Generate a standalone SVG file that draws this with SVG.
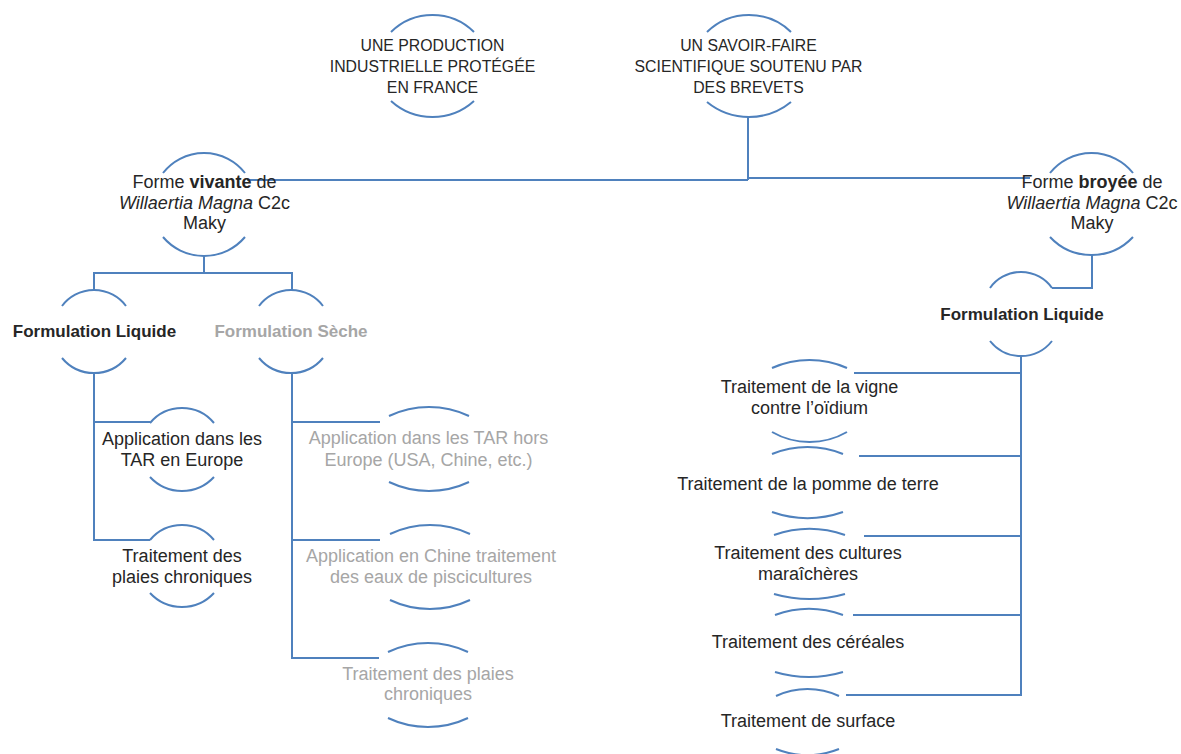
<svg xmlns="http://www.w3.org/2000/svg" width="1181" height="754" viewBox="0 0 1181 754">
<style>
.arc{fill:none;stroke:#4f81bd;stroke-width:2}
.conn{fill:none;stroke:#4f81bd;stroke-width:2}
.t{font-family:"Liberation Sans",Arial,sans-serif;font-size:18px;fill:#262626;text-anchor:middle}
.cap{font-size:15.8px}
.g{fill:#a6a6a6}
.b{font-weight:bold}
.bh{font-weight:bold;font-size:17px}
.i{font-style:italic}
</style>
<rect width="1181" height="754" fill="#ffffff"/>
<g id="connectors">
<path class="conn" d="M748,117 V180 M247,180 H748 M748,178 H1030"/>
<path class="conn" d="M204,256 V273 M94,290 V273 H292 V290"/>
<path class="conn" d="M94,373 V540 H150 M94,422 H150"/>
<path class="conn" d="M292,373 V658 H379 M292,422 H380 M292,540 H380"/>
<path class="conn" d="M1092,255 V288 H1052"/>
<path class="conn" d="M1021,356 V695 H846 M1021,373 H854 M1021,456 H859 M1021,536 H864 M1021,615 H853"/>
</g>
<g id="node-production">
<path class="arc" d="M391,32 A59.2,59.2 0 0 1 474,32"/>
<path class="arc" d="M391,101 A61.8,61.8 0 0 0 474,101"/>
<text class="t cap" x="432.5" y="51">UNE PRODUCTION</text>
<text class="t cap" x="432.5" y="72">INDUSTRIELLE PROTÉGÉE</text>
<text class="t cap" x="432.5" y="93">EN FRANCE</text>
</g>
<g id="node-savoir">
<path class="arc" d="M707,32 A60.4,60.4 0 0 1 791,32"/>
<path class="arc" d="M707,102 A66.3,66.3 0 0 0 791,102"/>
<text class="t cap" x="748.5" y="51">UN SAVOIR-FAIRE</text>
<text class="t cap" x="748.5" y="72">SCIENTIFIQUE SOUTENU PAR</text>
<text class="t cap" x="748.5" y="93">DES BREVETS</text>
</g>
<g id="node-vivante">
<path class="arc" d="M163,173 A52,52 0 0 1 245,173"/>
<path class="arc" d="M163,237 A53.7,53.7 0 0 0 245,237"/>
<text class="t" x="204.5" y="188">Forme <tspan class="b">vivante</tspan> de</text>
<text class="t" x="204.5" y="208.5"><tspan class="i">Willaertia Magna</tspan> C2c</text>
<text class="t" x="204.5" y="229">Maky</text>
</g>
<g id="node-broyee">
<path class="arc" d="M1050,173 A53.1,53.1 0 0 1 1133,173"/>
<path class="arc" d="M1050,237 A56.8,56.8 0 0 0 1133,237"/>
<text class="t" x="1092" y="188">Forme <tspan class="b">broyée</tspan> de</text>
<text class="t" x="1092" y="208.5"><tspan class="i">Willaertia Magna</tspan> C2c</text>
<text class="t" x="1092" y="229">Maky</text>
</g>
<g id="node-liquide-left">
<path class="arc" d="M62,306 A40,40 0 0 1 126,306"/>
<path class="arc" d="M62,358 A41.6,41.6 0 0 0 126,358"/>
<text class="t bh" x="94.5" y="337">Formulation Liquide</text>
</g>
<g id="node-seche">
<path class="arc" d="M259,306 A40,40 0 0 1 323,306"/>
<path class="arc" d="M259,358 A41.6,41.6 0 0 0 323,358"/>
<text class="t bh g" x="291" y="337">Formulation Sèche</text>
</g>
<g id="node-liquide-right">
<path class="arc" d="M990,288 A38,38 0 0 1 1052,288"/>
<path class="arc" d="M990,341 A39.5,39.5 0 0 0 1052,341"/>
<text class="t bh" x="1022" y="320">Formulation Liquide</text>
</g>
<g id="node-tar-europe">
<path class="arc" d="M150,423 A41.6,41.6 0 0 1 214,423"/>
<path class="arc" d="M150,477 A43.6,43.6 0 0 0 214,477"/>
<text class="t" x="182" y="445">Application dans les</text>
<text class="t" x="182" y="466">TAR en Europe</text>
</g>
<g id="node-plaies-left">
<path class="arc" d="M150,540 A41.6,41.6 0 0 1 214,540"/>
<path class="arc" d="M150,593 A43.6,43.6 0 0 0 214,593"/>
<text class="t" x="182" y="562">Traitement des</text>
<text class="t" x="182" y="583">plaies chroniques</text>
</g>
<g id="node-tar-hors">
<path class="arc" d="M389,416 A93.4,93.4 0 0 1 469,416"/>
<path class="arc" d="M389,482 A93.4,93.4 0 0 0 469,482"/>
<text class="t g" x="428.5" y="444">Application dans les TAR hors</text>
<text class="t g" x="428.5" y="466">Europe (USA, Chine, etc.)</text>
</g>
<g id="node-chine">
<path class="arc" d="M390,534 A93.4,93.4 0 0 1 470,534"/>
<path class="arc" d="M390,600 A93.4,93.4 0 0 0 470,600"/>
<text class="t g" x="431" y="562">Application en Chine traitement</text>
<text class="t g" x="431" y="583">des eaux de piscicultures</text>
</g>
<g id="node-plaies-gray">
<path class="arc" d="M388,652 A93.4,93.4 0 0 1 468,652"/>
<path class="arc" d="M388,718 A93.4,93.4 0 0 0 468,718"/>
<text class="t g" x="428" y="680">Traitement des plaies</text>
<text class="t g" x="428" y="700">chroniques</text>
</g>
<g id="node-vigne">
<path class="arc" d="M772,368 A91.9,91.9 0 0 1 847,368"/>
<path class="arc" d="M772,432 A75.3,75.3 0 0 0 847,432"/>
<text class="t" x="809.5" y="393">Traitement de la vigne</text>
<text class="t" x="809.5" y="414">contre l’oïdium</text>
</g>
<g id="node-pomme">
<path class="arc" d="M772,454 A93.5,93.5 0 0 1 843,454"/>
<path class="arc" d="M772,512 A108,108 0 0 0 843,512"/>
<text class="t" x="808" y="490">Traitement de la pomme de terre</text>
</g>
<g id="node-cultures">
<path class="arc" d="M774,535 A108,108 0 0 1 845,535"/>
<path class="arc" d="M774,594 A128.5,128.5 0 0 0 845,594"/>
<text class="t" x="808" y="559">Traitement des cultures</text>
<text class="t" x="808" y="580">maraîchères</text>
</g>
<g id="node-cereales">
<path class="arc" d="M775,615 A99.3,99.3 0 0 1 843,615"/>
<path class="arc" d="M775,672 A118,118 0 0 0 843,672"/>
<text class="t" x="808" y="648">Traitement des céréales</text>
</g>
<g id="node-surface">
<path class="arc" d="M776,696 A74.4,74.4 0 0 1 839,696"/>
<path class="arc" d="M776,749 A85.7,85.7 0 0 0 839,749"/>
<text class="t" x="808" y="727">Traitement de surface</text>
</g>
</svg>
